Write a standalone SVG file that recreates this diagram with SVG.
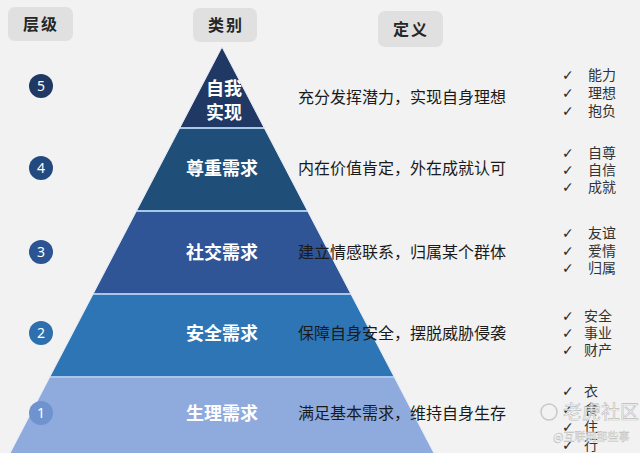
<svg xmlns="http://www.w3.org/2000/svg" width="640" height="453" viewBox="0 0 640 453">
<style>
.hdr{fill:#e0e0e0}
.hdrt{font-family:"Noto Sans CJK SC",sans-serif;font-weight:bold;font-size:16px;fill:#262626;text-anchor:middle;letter-spacing:2px}
.num{font-family:"Noto Sans","Open Sans",sans-serif;font-size:14px;fill:#fff;text-anchor:middle}
.tier{font-family:"Noto Sans CJK SC",sans-serif;font-weight:bold;font-size:18px;fill:#fff;text-anchor:middle}
.def{font-family:"Noto Sans CJK SC",sans-serif;font-size:16px;fill:#1a1a1a}
.chk{font-family:"DejaVu Sans","Noto Sans CJK SC",sans-serif;font-size:14px;fill:#2a2a2a}
.it{font-family:"Noto Sans CJK SC",sans-serif;font-size:14px;fill:#333}
.sep{stroke:#a9c7e8;stroke-width:2}
.wm{font-family:"Noto Sans CJK SC",sans-serif;fill:#ffffff;fill-opacity:0.75;stroke:#bdbdbd;stroke-width:0.6}
</style>
<rect width="640" height="453" fill="#f2f2f2"/>

<g id="headers">
<rect class="hdr" x="8" y="7" width="65" height="34" rx="7"/>
<text class="hdrt" x="41" y="30">层级</text>
<rect class="hdr" x="193" y="8" width="64" height="34" rx="7"/>
<text class="hdrt" x="226" y="31">类别</text>
<rect class="hdr" x="378" y="11" width="65" height="36" rx="7"/>
<text class="hdrt" x="411" y="35">定义</text>
</g>

<g id="tier5">
<polygon points="222,47 264.3,128 179.7,128" fill="#203864"/>
<text class="tier" x="224" y="95">自我</text>
<text class="tier" x="224" y="119">实现</text>
</g>
<g id="tier4">
<polygon points="179.7,128 264.3,128 307.6,211 136.4,211" fill="#1f4e79"/>
<text class="tier" x="222" y="175">尊重需求</text>
</g>
<g id="tier3">
<polygon points="136.4,211 307.6,211 350.9,294 93.1,294" fill="#2f5597"/>
<text class="tier" x="222" y="259">社交需求</text>
</g>
<g id="tier2">
<polygon points="93.1,294 350.9,294 394.3,377 49.7,377" fill="#2e75b6"/>
<text class="tier" x="222" y="340">安全需求</text>
</g>
<g id="tier1">
<polygon points="49.7,377 394.3,377 433.9,453 10.1,453" fill="#8faadc"/>
<text class="tier" x="222" y="420">生理需求</text>
</g>

<g id="connectors">
<line class="sep" x1="179.7" y1="128" x2="264.3" y2="128"/>
<line class="sep" x1="136.4" y1="211" x2="307.6" y2="211"/>
<line class="sep" x1="93.1" y1="294" x2="350.9" y2="294"/>
<line class="sep" x1="49.7" y1="377" x2="394.3" y2="377"/>
<polyline points="10.1,453 222,47 433.9,453" fill="none" stroke="#e8eef7" stroke-width="1"/>
</g>

<g id="levels">
<circle cx="41" cy="86" r="12" fill="#1f3864"/><text class="num" x="41" y="91">5</text>
<circle cx="41" cy="168" r="12" fill="#234a7e"/><text class="num" x="41" y="173">4</text>
<circle cx="41" cy="252" r="12" fill="#2a5592"/><text class="num" x="41" y="257">3</text>
<circle cx="41" cy="333" r="12" fill="#2e6fae"/><text class="num" x="41" y="338">2</text>
<circle cx="41" cy="413" r="12" fill="#6f93cf"/><text class="num" x="41" y="418">1</text>
</g>

<g id="definitions">
<text class="def" x="298" y="103">充分发挥潜力，实现自身理想</text>
<text class="def" x="298" y="174">内在价值肯定，外在成就认可</text>
<text class="def" x="298" y="258">建立情感联系，归属某个群体</text>
<text class="def" x="298" y="339">保障自身安全，摆脱威胁侵袭</text>
<text class="def" x="298" y="419">满足基本需求，维持自身生存</text>
</g>

<g id="lists">
<text class="chk" x="562" y="80">✓</text><text class="it" x="588" y="80">能力</text>
<text class="chk" x="562" y="98">✓</text><text class="it" x="588" y="98">理想</text>
<text class="chk" x="562" y="116">✓</text><text class="it" x="588" y="116">抱负</text>
<text class="chk" x="562" y="158">✓</text><text class="it" x="588" y="158">自尊</text>
<text class="chk" x="562" y="175">✓</text><text class="it" x="588" y="175">自信</text>
<text class="chk" x="562" y="192">✓</text><text class="it" x="588" y="192">成就</text>
<text class="chk" x="562" y="238">✓</text><text class="it" x="588" y="238">友谊</text>
<text class="chk" x="562" y="256">✓</text><text class="it" x="588" y="256">爱情</text>
<text class="chk" x="562" y="273">✓</text><text class="it" x="588" y="273">归属</text>
<text class="chk" x="562" y="321">✓</text><text class="it" x="584" y="321">安全</text>
<text class="chk" x="562" y="338">✓</text><text class="it" x="584" y="338">事业</text>
<text class="chk" x="562" y="355">✓</text><text class="it" x="584" y="355">财产</text>
<text class="chk" x="562" y="396">✓</text><text class="it" x="584" y="396">衣</text>
<text class="chk" x="562" y="414">✓</text><text class="it" x="584" y="414">食</text>
<text class="chk" x="562" y="432">✓</text><text class="it" x="584" y="432">住</text>
<text class="chk" x="562" y="450">✓</text><text class="it" x="584" y="450">行</text>
</g>

<g id="watermark">
<circle cx="549" cy="412" r="8" fill="none" stroke="#c8c8c8" stroke-width="1.5"/>
<text class="wm" x="563" y="419" font-size="19">老虎社区</text>
<text class="wm" x="553" y="441" font-size="11" style="fill:#ffffff;stroke-width:0.4">@互联网那些事</text>
</g>
</svg>
